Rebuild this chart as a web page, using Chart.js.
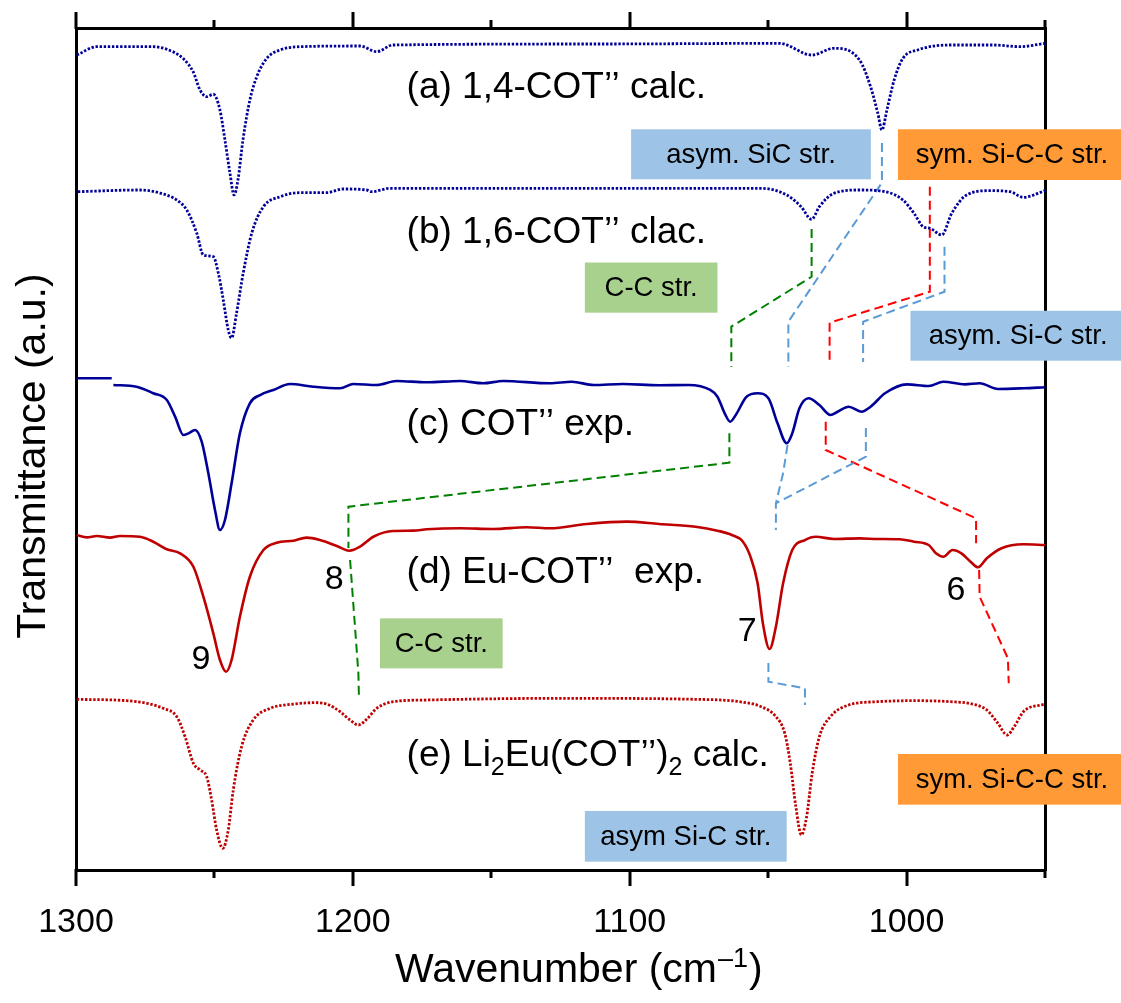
<!DOCTYPE html>
<html>
<head>
<meta charset="utf-8">
<script src="https://cdn.jsdelivr.net/npm/chart.js@4.4.1/dist/chart.umd.min.js"></script>
<style>
  html, body { margin: 0; padding: 0; background: #fff; }
  canvas { display: block; }
</style>
</head>
<body>
<canvas id="c" width="1121" height="1003"></canvas>
<script>
// ---------- data (wavenumber in cm^-1, transmittance in a.u.) ----------
const aX = [1299.7,1292.5,1272.2,1267.2,1261.4,1257.7,1255.2,1252.8,1250.4,1248.0,1246.2,1244.4,1242.9,1241.5,1239.7,1237.2,1234.7,1231.1,1226.3,1219.1,1197.4,1191.4,1185.5,1110.7,1045.9,1034.2,1026.2,1017.0,1013.0,1010.4,1008.9,1007.1,1004.5,1001.3,996.0,984.1,968.4,959.1,950];
const aY = [96.79,97.78,97.78,97.47,96.40,94.81,92.64,91.84,92.13,90.26,86.70,82.78,80.17,81.95,86.70,91.45,94.22,96.40,97.39,97.78,97.86,97.19,97.98,98.10,98.18,96.79,97.59,96.20,93.03,89.90,87.89,90.26,93.82,96.40,97.39,97.98,97.98,97.78,98.18];

const bX = [1299.3,1276.9,1269.7,1263.6,1260.0,1256.4,1254.0,1250.4,1248.6,1246.8,1245.0,1243.8,1242.0,1239.6,1236.5,1232.3,1226.3,1219.1,1209.5,1203.6,1195.0,1193.2,1186.6,1052.6,1043.3,1038.1,1034.3,1031.5,1026.2,1017.0,1007.8,1001.3,997.3,994.0,991.5,987.3,983.7,978.3,969.9,962.6,957.8,950];
const bY = [80.56,80.76,80.40,79.57,78.38,75.65,73.04,72.84,70.90,67.70,64.13,63.18,66.15,70.90,75.65,78.78,79.96,80.44,80.44,80.88,80.76,80.56,80.96,80.96,80.17,78.78,77.28,78.78,80.37,80.76,80.56,79.57,77.99,76.40,76.21,75.42,77.99,80.17,80.68,80.56,79.89,80.68];

const cX = [1299.7,1287.1,1286.8,1286.5,1278.1,1272.1,1267.2,1264.2,1261.2,1259.4,1257.0,1254.6,1252.2,1249.8,1248.0,1246.2,1243.8,1240.8,1237.2,1233.5,1228.7,1222.7,1214.3,1204.6,1199.8,1191.4,1184.2,1173.3,1161.3,1152.9,1145.7,1128.8,1120.9,1113.0,1102.5,1089.4,1078.8,1070.9,1068.3,1065.7,1063.7,1061.7,1057.8,1053.8,1049.9,1046.6,1043.3,1041.3,1038.7,1035.4,1031.5,1027.5,1024.9,1020.9,1016.3,1013.0,1007.8,999.9,992.0,986.7,978.9,973.6,967.0,957.8,950];
const cY = [58.40,58.40,null,57.60,57.40,56.62,55.82,53.84,51.66,51.86,52.26,50.87,47.11,42.76,40.38,41.57,45.93,51.86,55.43,56.41,57.01,57.72,57.40,57.21,57.72,57.60,58.08,57.92,58.08,57.80,58.08,57.80,57.99,57.60,57.72,57.57,57.60,57.01,56.21,54.24,53.24,54.04,56.21,56.62,56.02,53.05,50.68,51.86,54.83,56.02,55.23,54.04,54.43,55.02,54.43,55.02,56.62,57.68,57.48,57.99,57.68,57.80,57.13,57.21,57.33];

const dX = [1299.7,1296.1,1292.5,1287.7,1284.1,1276.9,1272.1,1267.2,1262.4,1257.6,1254.0,1250.4,1248.0,1245.8,1243.8,1240.8,1237.2,1232.3,1227.5,1221.5,1216.7,1211.9,1205.8,1201.3,1197.4,1192.6,1185.4,1178.2,1173.3,1161.3,1149.3,1137.2,1128.8,1115.6,1101.2,1089.4,1076.2,1068.3,1063.1,1059.1,1056.4,1053.8,1051.9,1049.5,1047.2,1044.6,1041.3,1036.7,1032.8,1026.2,1017.0,1010.4,1002.5,997.3,992.0,989.4,986.7,983.4,980.2,976.9,974.2,971.0,965.7,957.8,950];
const dY = [39.79,39.51,39.67,39.47,39.67,39.58,38.99,38.09,37.61,36.02,32.46,28.11,24.94,23.55,24.94,30.08,34.83,38.00,38.87,39.11,39.47,39.19,38.48,37.92,38.40,39.58,40.26,40.30,40.46,40.58,40.50,40.70,40.58,41.09,41.37,41.09,40.77,40.30,39.79,38.99,37.21,34.05,29.30,26.25,28.90,34.05,38.00,39.19,39.58,39.31,39.39,39.31,39.28,38.99,38.60,37.61,37.21,38.00,37.61,36.62,35.95,37.02,38.21,38.68,38.60];

const eX = [1299.7,1281.7,1274.5,1268.5,1263.6,1260.6,1257.6,1255.2,1252.8,1251.0,1249.2,1247.0,1245.0,1243.2,1240.2,1236.0,1229.9,1221.5,1214.3,1209.5,1204.6,1201.0,1198.0,1195.0,1191.4,1185.4,1173.3,1125.2,1076.2,1060.4,1052.5,1047.2,1044.0,1042.0,1040.0,1038.0,1036.1,1034.1,1031.5,1027.5,1020.9,1010.4,997.3,984.1,976.2,971.0,967.0,963.7,961.1,957.8,950];
const eY = [20.27,20.11,19.80,19.20,18.21,15.83,12.67,11.88,11.08,8.31,4.75,2.58,4.75,9.50,14.64,17.81,19.20,19.71,19.87,19.71,18.80,17.81,17.22,17.90,19.20,19.99,20.19,20.39,20.27,19.99,19.39,18.21,16.24,12.67,7.52,4.16,6.33,11.48,15.83,18.21,19.60,19.99,20.11,19.99,19.71,19.00,17.42,16.03,17.02,18.80,19.71];

// band-correlation connectors, in (wavenumber, a.u.)
const greenLinks = [
  [[1034.3,76.13],[1034.3,70.46],[1063.3,64.53],[1063.3,59.74]],
  [[1064.0,51.86],[1064.0,48.37],[1201.6,43.15],[1201.6,38.24]],
  [[1201.0,36.82],[1198.0,23.36],[1197.8,20.39]]
];
const blueLinks = [
  [[1008.9,86.34],[1008.9,81.63],[1042.7,65.12],[1042.7,59.74]],
  [[986.3,74.03],[986.3,68.68],[1015.7,65.12],[1015.7,60.33]],
  [[1043.0,50.48],[1044.6,47.11],[1047.2,43.55],[1047.2,40.38]],
  [[1014.7,52.49],[1014.7,49.09],[1047.2,43.55]],
  [[1049.9,24.58],[1049.9,22.36],[1036.7,21.58],[1036.7,19.60]]
];
const redLinks = [
  [[991.6,81.15],[991.6,68.68],[1027.8,65.00],[1027.8,60.33]],
  [[1029.2,53.24],[1029.2,49.88],[974.9,41.77],[974.9,38.80]],
  [[973.8,35.63],[973.6,32.46],[963.4,25.14],[963.1,22.17]]
];

const curveLabels = ['(a) 1,4-COT\u2019\u2019 calc.', '(b) 1,6-COT\u2019\u2019 clac.', '(c) COT\u2019\u2019 exp.', '(d) Eu-COT\u2019\u2019  exp.'];
const curveLabelY = [91.64, 74.50, 51.66, 34.05];
const curveLabelE = [['(e) Li', 0], ['2', 1], ['Eu(COT\u2019\u2019)', 0], ['2', 1], [' calc.', 0]];
const curveLabelEY = 12.35;
const labelStartX = 1180.6;

const bandNames = ['9', '8', '7', '6'];
const bandX = [1254.9, 1206.7, 1057.6, 982.2];
const bandY = [25.24, 34.74, 28.54, 33.37];

const boxTexts = ['asym. SiC str.', 'sym. Si-C-C str.', 'C-C str.', 'asym. Si-C str.', 'C-C str.', 'sym. Si-C-C str.', 'asym Si-C str.'];
const boxRanges = [
  [1099.5, 1012.9, 87.97, 82.03],
  [1003.1, 920.8, 87.97, 81.95],
  [1116.2, 1068.3, 72.15, 66.19],
  [998.6, 920.8, 66.42, 60.49],
  [1190.2, 1145.9, 29.89, 23.95],
  [1003.1, 920.8, 13.78, 7.76],
  [1116.2, 1043.3, 7.01, 0.99]
];
const boxKinds = ['blue', 'orange', 'green', 'blue', 'green', 'orange', 'blue'];

const xTicks = [950, 1000, 1050, 1100, 1150, 1200, 1250, 1300];
const yTitle = 'Transmittance (a.u.)';

// ---------- styles ----------
const FONT = '"Liberation Sans", Arial, Helvetica, sans-serif';
const NAVY = '#000099';
const DRED = '#C00000';
const BOXFILL = { blue: '#9DC3E6', orange: '#FF9A36', green: '#A9D18E' };

const pts = (xs, ys) => xs.map((x, i) => ({ x, y: ys[i] }));
const links = segs => {
  const out = [];
  segs.forEach((s, k) => {
    if (k > 0) out.push({ x: s[0][0], y: null });
    s.forEach(p => out.push({ x: p[0], y: p[1] }));
  });
  return out;
};

const curve = (data, color, dotted) => ({
  data, borderColor: color, borderWidth: dotted ? 2.8 : 2.6,
  borderDash: dotted ? [2.4, 1.7] : [], pointRadius: 0,
  cubicInterpolationMode: 'monotone', fill: false, spanGaps: false
});
const link = (data, color) => ({
  data, borderColor: color, borderWidth: 2, borderDash: [9, 5],
  pointRadius: 0, tension: 0, fill: false, spanGaps: false
});

const overlay = {
  id: 'overlay',
  afterDraw(chart) {
    const ctx = chart.ctx;
    const xs = chart.scales.x, ys = chart.scales.y;
    const X = v => xs.getPixelForValue(v), Y = v => ys.getPixelForValue(v);
    const { top, bottom } = chart.chartArea;
    ctx.save();
    // tick marks on bottom and top axes (outward)
    ctx.strokeStyle = '#000'; ctx.lineWidth = 3; ctx.lineCap = 'butt';
    xTicks.forEach(v => {
      const px = Math.round(X(v));
      const len = v % 100 === 0 ? 16 : 8;
      ctx.beginPath();
      ctx.moveTo(px, bottom - 1); ctx.lineTo(px, bottom + len);
      ctx.moveTo(px, top + 1); ctx.lineTo(px, top - len);
      ctx.stroke();
    });
    // label boxes
    ctx.textAlign = 'center'; ctx.textBaseline = 'middle';
    ctx.font = '27.5px ' + FONT;
    boxTexts.forEach((t, i) => {
      const r = boxRanges[i];
      const x1 = X(r[0]), x2 = X(r[1]), y1 = Y(r[2]), y2 = Y(r[3]);
      ctx.fillStyle = BOXFILL[boxKinds[i]];
      ctx.fillRect(x1, y1, x2 - x1, y2 - y1);
      ctx.fillStyle = '#000';
      ctx.fillText(t, (x1 + x2) / 2, (y1 + y2) / 2 + 1);
    });
    // curve labels
    ctx.textAlign = 'left'; ctx.textBaseline = 'alphabetic';
    ctx.font = '37px ' + FONT;
    curveLabels.forEach((t, i) => ctx.fillText(t, X(labelStartX), Y(curveLabelY[i])));
    let cx = X(labelStartX);
    const by = Y(curveLabelEY);
    curveLabelE.forEach(([t, sub]) => {
      ctx.font = (sub ? '25px ' : '37px ') + FONT;
      ctx.fillText(t, cx, by + (sub ? 9 : 0));
      cx += ctx.measureText(t).width;
    });
    // band numbers
    ctx.textAlign = 'center'; ctx.textBaseline = 'middle';
    ctx.font = '34px ' + FONT;
    bandNames.forEach((t, i) => ctx.fillText(t, X(bandX[i]), Y(bandY[i]) + 2));
    // x-axis title with superscript
    ctx.textAlign = 'left'; ctx.textBaseline = 'alphabetic';
    let tx = 395;
    const tyBase = 982;
    ctx.font = '41px ' + FONT;
    ctx.fillText('Wavenumber (cm', tx, tyBase);
    tx += ctx.measureText('Wavenumber (cm').width + 1;
    ctx.font = '27px ' + FONT;
    ctx.fillText('\u2013', tx, tyBase - 15);
    tx += ctx.measureText('\u2013').width;
    ctx.fillText('1', tx, tyBase - 15);
    tx += ctx.measureText('1').width + 1;
    ctx.font = '41px ' + FONT;
    ctx.fillText(')', tx, tyBase);
    // y-axis title (rotated)
    ctx.translate(45, 456);
    ctx.rotate(-Math.PI / 2);
    ctx.textAlign = 'center'; ctx.textBaseline = 'alphabetic';
    ctx.font = '41px ' + FONT;
    ctx.fillText(yTitle, 0, 0);
    ctx.restore();
  }
};

const axisBorder = { display: true, color: '#000', width: 3 };

new Chart(document.getElementById('c'), {
  type: 'line',
  data: {
    datasets: [
      curve(pts(aX, aY), NAVY, true),
      curve(pts(bX, bY), NAVY, true),
      curve(pts(cX, cY), NAVY, false),
      curve(pts(dX, dY), DRED, false),
      curve(pts(eX, eY), DRED, true),
      link(links(greenLinks), '#008000'),
      link(links(blueLinks), '#5B9BD5'),
      link(links(redLinks), '#FF0000')
    ]
  },
  options: {
    responsive: false,
    animation: false,
    devicePixelRatio: 1,
    layout: { padding: 0 },
    plugins: { legend: { display: false }, tooltip: { enabled: false } },
    scales: {
      x: {
        type: 'linear', position: 'bottom', reverse: true, min: 950, max: 1300,
        ticks: {
          stepSize: 50, autoSkip: false, maxRotation: 0, padding: 16, color: '#000',
          font: { family: FONT, size: 34 },
          callback: v => (v % 100 === 0 ? String(v) : '')
        },
        grid: { display: true, drawOnChartArea: false, drawTicks: true, tickLength: 16, color: 'rgba(0,0,0,0)' },
        border: axisBorder,
        afterFit(s) { s.height = 133; }
      },
      x2: {
        type: 'linear', position: 'top', reverse: true, min: 950, max: 1300,
        ticks: { display: false }, grid: { display: false }, border: axisBorder,
        afterFit(s) { s.height = 28; }
      },
      y: {
        type: 'linear', position: 'left', min: 0, max: 100,
        ticks: { display: false }, grid: { display: false }, border: axisBorder,
        title: { display: false },
        afterFit(s) { s.width = 76; }
      },
      y2: {
        type: 'linear', position: 'right', min: 0, max: 100,
        ticks: { display: false }, grid: { display: false }, border: axisBorder,
        afterFit(s) { s.width = 76; }
      }
    }
  },
  plugins: [overlay]
});
</script>
</body>
</html>
